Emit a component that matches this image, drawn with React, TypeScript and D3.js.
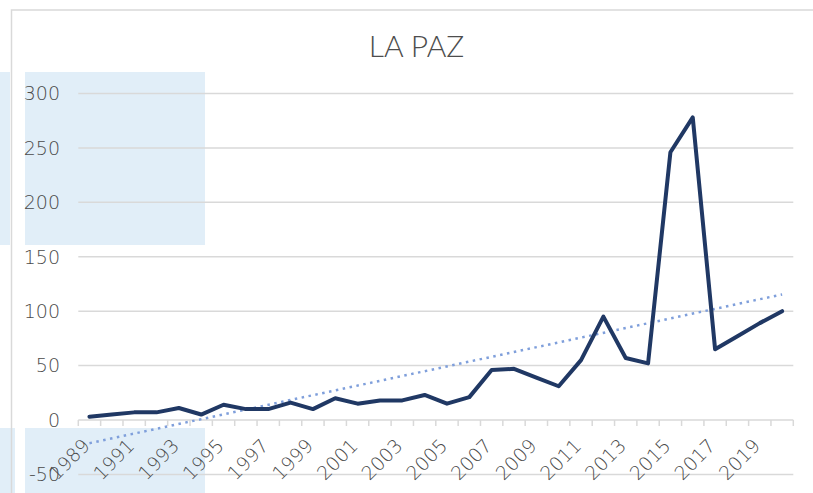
import React from "react";
import * as d3 from "d3";

const years: number[] = [
  1989, 1990, 1991, 1992, 1993, 1994, 1995, 1996, 1997, 1998, 1999, 2000, 2001, 2002, 2003, 2004,
  2005, 2006, 2007, 2008, 2009, 2010, 2011, 2012, 2013, 2014, 2015, 2016, 2017, 2018, 2019, 2020,
];
const values: number[] = [
  3, 5, 7, 7, 11, 5, 14, 10, 10, 16, 10, 20, 15, 18, 18, 23,
  15, 21, 46, 47, 39, 31, 55, 95, 57, 52, 246, 278, 65, 77, 89, 100,
];
const yTicks: number[] = [-50, 0, 50, 100, 150, 200, 250, 300];
const xLabelYears: number[] = years.filter((y) => (y - 1989) % 2 === 0);
const title = "LA PAZ";

const W = 813;
const H = 493;
const plotLeft = 78.3;
const plotRight = 793.3;
const font = "'DejaVu Sans', sans-serif";

export default function App() {
  const x = d3
    .scaleBand<number>()
    .domain(years)
    .range([plotLeft, plotRight])
    .paddingInner(0)
    .paddingOuter(0);
  const cx = (yr: number) => (x(yr) as number) + x.bandwidth() / 2;
  const y = d3.scaleLinear().domain([-50, 300]).range([474.4, 93.5]);

  const line = d3
    .line<number>()
    .x((_, i) => cx(years[i]))
    .y((v) => y(v));

  // least-squares linear trend
  const n = values.length;
  const idx = d3.range(n);
  const mx = d3.mean(idx) as number;
  const my = d3.mean(values) as number;
  const sxy = d3.sum(idx, (i) => (i - mx) * (values[i] - my));
  const sxx = d3.sum(idx, (i) => (i - mx) * (i - mx));
  const slope = sxy / sxx;
  const intercept = my - slope * mx;
  const trend = [intercept, intercept + slope * (n - 1)];

  const ticksX = years.map((yr) => x(yr) as number).concat([plotRight]);
  const grid = "#D9D9D9";
  const textCol = "#4a4a4a";

  return (
    <svg
      width={W}
      height={H}
      style={{ position: "absolute", left: 0, top: 0, background: "#fff" }}
    >
      {/* selection highlight boxes */}
      <rect x={0} y={72} width={10} height={173} fill="#E1EEF8" />
      <rect x={25} y={72} width={180} height={173} fill="#E1EEF8" />
      <rect x={0} y={428} width={15} height={65} fill="#E1EEF8" />
      <rect x={25} y={428} width={180} height={65} fill="#E1EEF8" />

      {/* chart frame */}
      <rect x={11.5} y={10} width={900} height={600} fill="none" stroke={grid} strokeWidth={1.5} />

      <text
        x={416.5}
        y={57.3}
        textAnchor="middle"
        fontFamily="Lato, 'DejaVu Sans', sans-serif"
        fontWeight={300}
        fontSize={30}
        fill="#4d4d4d"
      >
        {title}
      </text>

      {/* gridlines */}
      {yTicks
        .filter((t) => t !== 0)
        .map((t) => (
          <line key={t} x1={plotLeft} x2={plotRight} y1={y(t)} y2={y(t)} stroke={grid} strokeWidth={1.5} />
        ))}

      {/* category axis at 0 */}
      <line x1={plotLeft} x2={plotRight} y1={y(0)} y2={y(0)} stroke={grid} strokeWidth={1.5} />
      {ticksX.map((tx, i) => (
        <line key={i} x1={tx} x2={tx} y1={y(0)} y2={y(0) + 6} stroke={grid} strokeWidth={1.5} />
      ))}

      {/* y labels */}
      {yTicks.map((t) => (
        <text
          key={t}
          x={60}
          y={y(t)}
          dy="0.36em"
          textAnchor="end"
          fontFamily={font}
          fontWeight={200}
          fontSize={19}
          fill={textCol}
        >
          {t}
        </text>
      ))}

      {/* x labels */}
      {xLabelYears.map((yr) => (
        <text
          key={yr}
          transform={`translate(${cx(yr) + 1.5},${y(0) + 27}) rotate(-45)`}
          textAnchor="end"
          fontFamily={font}
          fontWeight={200}
          fontSize={19}
          fill={textCol}
        >
          {yr}
        </text>
      ))}

      {/* trend line */}
      <line
        x1={cx(years[0])}
        x2={cx(years[n - 1])}
        y1={y(trend[0])}
        y2={y(trend[1])}
        stroke="#7F9FDB"
        strokeWidth={2.5}
        strokeDasharray="2.5 4.5"
      />

      {/* data line */}
      <path
        d={line(values) as string}
        fill="none"
        stroke="#203864"
        strokeWidth={4}
        strokeLinejoin="round"
        strokeLinecap="round"
      />
    </svg>
  );
}
